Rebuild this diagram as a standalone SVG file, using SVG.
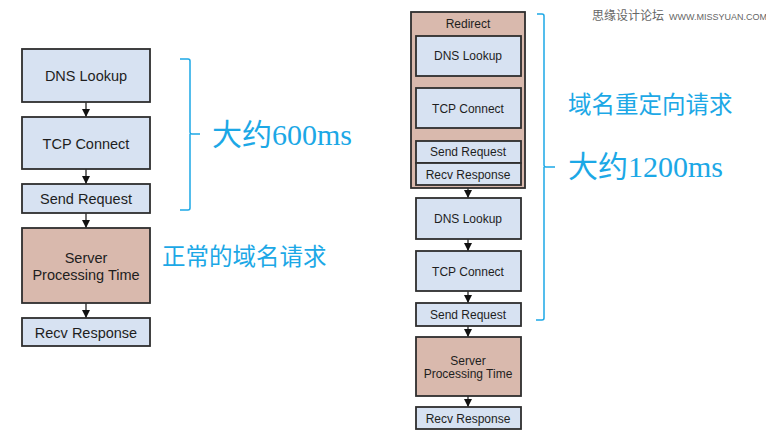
<svg xmlns="http://www.w3.org/2000/svg" width="766" height="440" viewBox="0 0 766 440">
<style>
.box{fill:#d7e2f2;stroke:#2e2e2e;stroke-width:1.8}
.srv{fill:#d9b9ad;stroke:#2e2e2e;stroke-width:1.8}
.t{font-family:"Liberation Sans",Arial,sans-serif;fill:#1e1e1e;text-anchor:middle;dominant-baseline:central}
.tl{font-size:14.5px}
.tr{font-size:12px}
.cn{font-family:"Liberation Serif","Noto Sans CJK SC",serif;fill:#1ca8e6}
.brace{fill:none;stroke:#1ca8e6;stroke-width:1.5}
.ar{stroke:#111;stroke-width:1.2;fill:none;marker-end:url(#ah)}
</style>
<defs>
<marker id="ah" markerUnits="userSpaceOnUse" markerWidth="10" markerHeight="10" refX="8" refY="4.5" orient="auto">
<path d="M0,0.5 L8,4.5 L0,8.5 Z" fill="#111"/>
</marker>
</defs>
<rect width="766" height="440" fill="#fff"/>

<g id="connectors">
<line class="ar" x1="86" y1="102" x2="86" y2="117"/>
<line class="ar" x1="86" y1="169" x2="86" y2="184"/>
<line class="ar" x1="86" y1="213" x2="86" y2="228"/>
<line class="ar" x1="86" y1="303" x2="86" y2="318"/>
<line class="ar" x1="468" y1="76" x2="468" y2="88"/>
<line class="ar" x1="468" y1="128" x2="468" y2="141"/>
<line class="ar" x1="468" y1="188" x2="468" y2="198"/>
<line class="ar" x1="468" y1="239" x2="468" y2="251"/>
<line class="ar" x1="468" y1="291" x2="468" y2="303"/>
<line class="ar" x1="468" y1="326" x2="468" y2="337"/>
<line class="ar" x1="468" y1="396" x2="468" y2="407"/>
</g>

<g id="l-dns"><rect class="box" x="22" y="49" width="128" height="53"/><text class="t tl" x="86" y="76">DNS Lookup</text></g>
<g id="l-tcp"><rect class="box" x="22" y="117" width="128" height="52"/><text class="t tl" x="86" y="144">TCP Connect</text></g>
<g id="l-send"><rect class="box" x="22" y="184" width="128" height="29"/><text class="t tl" x="86" y="199">Send Request</text></g>
<g id="l-server"><rect class="srv" x="22" y="228" width="128" height="75"/><text class="t tl" x="86" y="258">Server</text><text class="t tl" x="86" y="275">Processing Time</text></g>
<g id="l-recv"><rect class="box" x="22" y="318" width="128" height="28"/><text class="t tl" x="86" y="333">Recv Response</text></g>

<g id="redirect"><rect class="srv" x="411" y="12" width="114" height="176"/><text class="t tr" x="468" y="24">Redirect</text></g>
<g id="r-dns1"><rect class="box" x="416" y="36" width="105" height="40"/><text class="t tr" x="468" y="56">DNS Lookup</text></g>
<g id="r-tcp1"><rect class="box" x="416" y="88" width="105" height="40"/><text class="t tr" x="468" y="109">TCP Connect</text></g>
<g id="r-send1"><rect class="box" x="416" y="141" width="105" height="22"/><text class="t tr" x="468" y="152">Send Request</text></g>
<g id="r-recv1"><rect class="box" x="416" y="163" width="105" height="22"/><text class="t tr" x="468" y="175">Recv Response</text></g>
<g id="r-dns2"><rect class="box" x="416" y="198" width="105" height="41"/><text class="t tr" x="468" y="219">DNS Lookup</text></g>
<g id="r-tcp2"><rect class="box" x="416" y="251" width="105" height="40"/><text class="t tr" x="468" y="272">TCP Connect</text></g>
<g id="r-send2"><rect class="box" x="416" y="303" width="105" height="23"/><text class="t tr" x="468" y="315">Send Request</text></g>
<g id="r-server"><rect class="srv" x="416" y="337" width="105" height="59"/><text class="t tr" x="468" y="361">Server</text><text class="t tr" x="468" y="374">Processing Time</text></g>
<g id="r-recv2"><rect class="box" x="416" y="407" width="105" height="22"/><text class="t tr" x="468" y="419">Recv Response</text></g>

<g id="brace-left">
<path class="brace" d="M180,59 L188,59 Q190,59 190,61 L190,132 Q190,134 192,134 L200,134 M190,134 L190,208 Q190,210 188,210 L180,210"/>
</g>
<g id="brace-right">
<path class="brace" d="M537,14 L542,14 Q544,14 544,16 L544,165 Q544,167 546,167 L555,167 M544,167 L544,318 Q544,320 542,320 L536,320"/>
</g>

<text class="cn" x="212" y="145" font-size="30">大约600ms</text>
<text class="cn" x="162" y="265" font-size="23.5">正常的域名请求</text>
<text class="cn" x="568" y="113" font-size="23.5">域名重定向请求</text>
<text class="cn" x="568" y="177" font-size="30">大约1200ms</text>

<g id="watermark">
<text x="592" y="20" font-family="'Noto Sans CJK SC',sans-serif" font-size="12" fill="#666">思缘设计论坛</text>
<text x="669" y="20" font-family="'Liberation Sans',sans-serif" font-size="9" fill="#666">WWW.MISSYUAN.COM</text>
</g>
</svg>
